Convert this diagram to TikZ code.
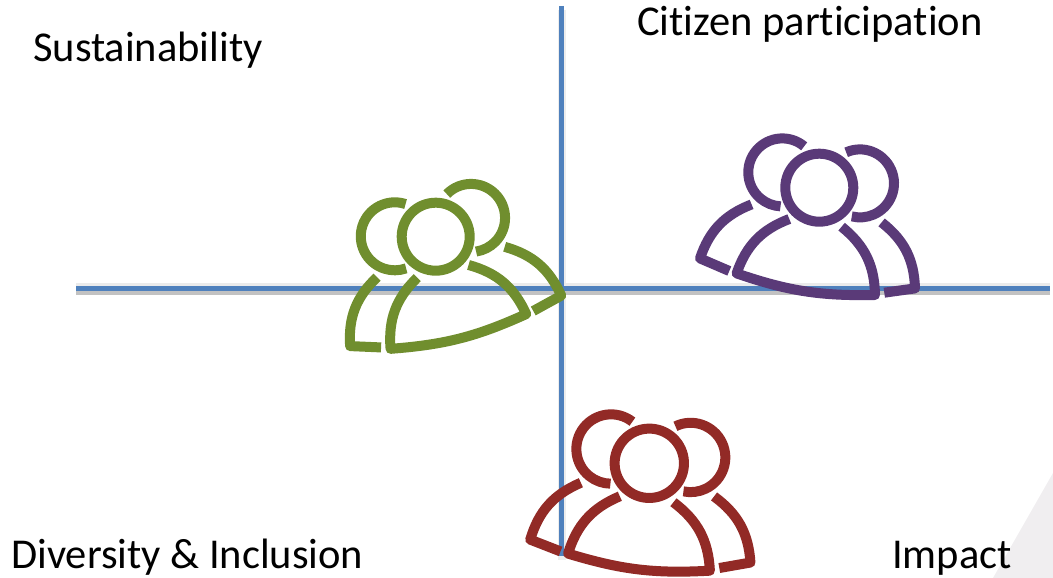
\documentclass[tikz,border=0pt]{standalone}
\usepackage{fontspec}
\setmainfont[Ligatures=NoCommon]{Carlito}
\usepackage{tikz}
\definecolor{axisblue}{HTML}{4F81BD}
\definecolor{icongreen}{HTML}{708E2E}
\definecolor{iconpurple}{HTML}{5A3A78}
\definecolor{iconred}{HTML}{922A26}
\definecolor{cornergray}{HTML}{F0EEF0}
\tikzset{
	axis/.style={draw=axisblue,line width=5pt},
	shadowh/.style={draw=black!24,line width=7pt,transform canvas={yshift=-3.5pt},
		preaction={draw=black!8,line width=11pt}},
	shadowv/.style={draw=black!7,line width=8pt,transform canvas={yshift=-4pt}},
	caption/.style={anchor=base west,font=\fontsize{42.5}{42.5}\selectfont,inner sep=0pt},
	iconline/.style={line width=10pt,line join=round},
	people/.pic={
		\draw[iconline] (0,0) circle[radius=34];
		\draw[iconline] ([shift={(50:34)}]-37,15.3) arc[start angle=50,end angle=267,radius=34];
		\draw[iconline] ([shift={(114:34)}]40.7,4.3) arc[start angle=114,end angle=-104,radius=34];
		\draw[iconline] (-30,-31.3) to[bend right=25] (-82.7,-85.7) to[bend right=10] (55.7,-107.3) to[bend right=25] (22.3,-39);
		\draw[iconline] (-67.7,-16.7) to[bend right=25] (-119.3,-70.7) -- (-90,-83.3);
		\draw[iconline] (62.3,-34.7) to[bend left=25] (95.7,-100.7) -- (65,-105);
	}
}

\begin{document}
\begin{tikzpicture}[x=1pt,y=1pt]
	\useasboundingbox (0,0) rectangle (1053,578);
	\fill[cornergray] (1053,105) -- (993,0) -- (1053,0) -- cycle;
	% axes
	\coordinate (W) at (76,289.5);
	\coordinate (E) at (1050,289.5);
	\coordinate (N) at (561.5,572);
	\coordinate (S) at (561.5,22);
	\draw[shadowv] (N) -- (S);
	\draw[shadowh] (W) -- (E);
	\draw[axis] (W) -- (E);
	\draw[axis] (N) -- (S);
	% groups
	\pic[color=icongreen,rotate=5.5,xscale=-1] (green) at (435.7,341.3) {people};
	\pic[color=iconpurple] (purple) at (819.3,390.3) {people};
	\pic[color=iconred,rotate=2,scale=1.02] (red) at (649.3,114.7) {people};
	% labels
	\node[caption] (sustain) at (33,516) {Sustainability};
	\node[caption] (citizen) at (637,542) {Citizen participation};
	\node[caption] (diversity) at (11,9) {Diversity \& Inclusion};
	\node[caption] (impact) at (892,9) {Impact};
\end{tikzpicture}
\end{document}
